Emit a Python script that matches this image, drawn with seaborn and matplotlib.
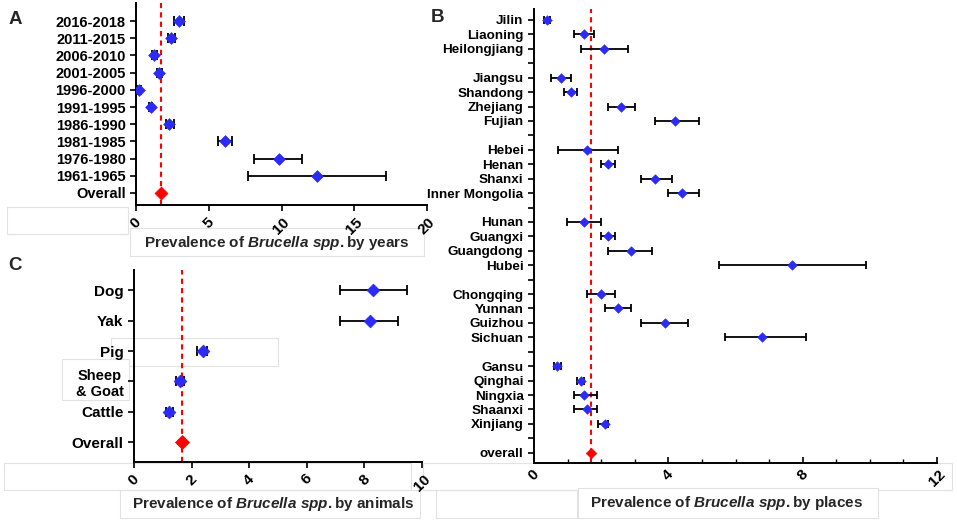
import numpy as np
import pandas as pd
import matplotlib
matplotlib.use("Agg")
from matplotlib import pyplot as plt
from matplotlib.patches import Rectangle
from matplotlib.ticker import MultipleLocator
import seaborn as sns

# panel A - by years
years = ["2016-2018", "2011-2015", "2006-2010", "2001-2005", "1996-2000",
         "1991-1995", "1986-1990", "1981-1985", "1976-1980", "1961-1965"]
years_est = [2.95, 2.43, 1.26, 1.60, 0.23, 1.00, 2.30, 6.13, 9.85, 12.45]
years_lo = [2.60, 2.20, 1.10, 1.45, 0.10, 0.90, 2.05, 5.65, 8.10, 7.70]
years_hi = [3.30, 2.70, 1.45, 1.80, 0.35, 1.10, 2.60, 6.60, 11.40, 17.20]
years_overall = 1.72

# panel C - by animals
animals = ["Dog", "Yak", "Pig", "Sheep\n& Goat", "Cattle"]
animals_est = [8.31, 8.20, 2.40, 1.59, 1.22]
animals_lo = [7.17, 7.17, 2.20, 1.45, 1.10]
animals_hi = [9.49, 9.18, 2.55, 1.75, 1.35]
animals_overall = 1.68

# panel B - by places ("" = gap row between regions)
places = ["Jilin", "Liaoning", "Heilongjiang", "",
          "Jiangsu", "Shandong", "Zhejiang", "Fujian", "",
          "Hebei", "Henan", "Shanxi", "Inner Mongolia", "",
          "Hunan", "Guangxi", "Guangdong", "Hubei", "",
          "Chongqing", "Yunnan", "Guizhou", "Sichuan", "",
          "Gansu", "Qinghai", "Ningxia", "Shaanxi", "Xinjiang", ""]
places_est = [0.39, 1.49, 2.09, np.nan,
              0.80, 1.09, 2.59, 4.20, np.nan,
              1.59, 2.20, 3.60, 4.40, np.nan,
              1.49, 2.20, 2.89, 7.69, np.nan,
              1.99, 2.50, 3.90, 6.78, np.nan,
              0.69, 1.39, 1.49, 1.59, 2.10, np.nan]
places_lo = [0.30, 1.19, 1.40, np.nan,
             0.50, 0.89, 2.19, 3.60, np.nan,
             0.70, 2.00, 3.19, 4.00, np.nan,
             0.99, 2.00, 2.19, 5.50, np.nan,
             1.59, 2.10, 3.19, 5.70, np.nan,
             0.60, 1.29, 1.19, 1.19, 1.90, np.nan]
places_hi = [0.48, 1.80, 2.81, np.nan,
             1.10, 1.29, 3.00, 4.90, np.nan,
             2.50, 2.40, 4.10, 4.90, np.nan,
             2.00, 2.40, 3.50, 9.89, np.nan,
             2.40, 2.89, 4.60, 8.10, np.nan,
             0.80, 1.49, 1.89, 1.89, 2.20, np.nan]
places_overall = 1.69

W, H = 957, 520
BLUE = "#2b2bf5"
RED = "#ff0000"

sns.set_theme(style="ticks")
plt.rcParams["font.family"] = ["Liberation Sans", "DejaVu Sans"]
plt.rcParams["font.weight"] = "bold"
plt.rcParams["mathtext.fontset"] = "custom"
plt.rcParams["mathtext.rm"] = "Liberation Sans:bold"
plt.rcParams["mathtext.it"] = "Liberation Sans:italic:bold"


def px(x0, y0, x1, y1):
    return [x0 / W, 1 - y1 / H, (x1 - x0) / W, (y1 - y0) / H]


def forest(ax, labels, est, lo, hi, overall, overall_name, ms, cap, lsize):
    n = len(labels)
    df = pd.DataFrame({"label": labels, "est": est, "lo": lo, "hi": hi,
                       "pos": np.arange(n)})
    df = df.dropna()
    ax.errorbar(df["est"], df["pos"],
                xerr=[df["est"] - df["lo"], df["hi"] - df["est"]],
                fmt="none", ecolor="black", elinewidth=1.3,
                capsize=cap, capthick=1.3, zorder=2)
    sns.scatterplot(data=df, x="est", y="pos", marker="D", color=BLUE,
                    edgecolor=BLUE, s=ms, ax=ax, zorder=3, legend=False)
    sns.scatterplot(x=[overall], y=[n], marker="D", color=RED,
                    edgecolor=RED, s=ms * 1.2, ax=ax, zorder=3, legend=False)
    ax.axvline(overall, color=RED, ls=(0, (2.5, 2)), lw=1.5, zorder=1)
    ax.set_yticks(np.arange(n + 1))
    ax.set_yticklabels(list(labels) + [overall_name], fontsize=lsize,
                       fontweight="bold")
    ax.set_xlabel("")
    ax.set_ylabel("")
    ax.set_facecolor("none")
    for s in ["top", "right"]:
        ax.spines[s].set_visible(False)
    for s in ["left", "bottom"]:
        ax.spines[s].set_linewidth(1.4)
        ax.spines[s].set_color("black")
    ax.tick_params(axis="both", colors="black", width=1.2, length=4)
    ax.tick_params(axis="x", labelrotation=45, labelsize=11, pad=3)
    ax.set_zorder(2)


fig = plt.figure(figsize=(W / 100, H / 100), dpi=100)

# faint boxes left over in the original figure
boxes = [(7, 207, 128, 234), (130, 228, 424, 256), (111, 338, 278, 366),
         (62, 359, 129, 400), (4, 463, 411, 490), (120, 490, 420, 518),
         (423, 463, 952, 490), (436, 490, 577, 518), (578, 488, 878, 518)]
for b in boxes:
    x, y, w, h = px(*b)
    fig.patches.append(Rectangle((x, y), w, h, transform=fig.transFigure,
                                 facecolor="white", edgecolor="#e2e2e2",
                                 lw=0.8, zorder=0))

axA = fig.add_axes(px(136, 3, 427, 205))
forest(axA, years, years_est, years_lo, years_hi, years_overall,
       "Overall", 36, 3.5, 10.5)
axA.set_xlim(0, 20)
axA.set_xticks([0, 5, 10, 15, 20])
axA.set_ylim(10.7, -1.05)

axC = fig.add_axes(px(134, 270, 422, 462))
forest(axC, animals, animals_est, animals_lo, animals_hi, animals_overall,
       "Overall", 42, 3.5, 11)
axC.set_xlim(0, 10)
axC.set_xticks([0, 2, 4, 6, 8, 10])
axC.set_ylim(5.65, -0.67)
for t in axC.get_yticklabels():
    if "Sheep" in t.get_text():
        t.set_multialignment("center")
        t.set_fontsize(10.5)

axB = fig.add_axes(px(534, 9, 937, 463))
forest(axB, places, places_est, places_lo, places_hi, places_overall,
       "overall", 24, 3, 9.7)
axB.set_xlim(0, 12)
axB.set_xticks([0, 4, 8, 12])
axB.xaxis.set_minor_locator(MultipleLocator(1))
axB.tick_params(axis="x", which="both", direction="in")
axB.tick_params(axis="x", which="minor", length=3, width=1, colors="black")
axB.set_ylim(30.71, -0.76)

fig.text(15 / W, 1 - 20 / H, "A", fontsize=13.5, fontweight="bold",
         ha="center", va="center")
fig.text(438 / W, 1 - 18 / H, "B", fontsize=13.5, fontweight="bold",
         ha="center", va="center")
fig.text(15 / W, 1 - 266 / H, "C", fontsize=13.5, fontweight="bold",
         ha="center", va="center")

fig.text(277 / W, 1 - 243 / H, r"Prevalence of $\mathit{Brucella\ spp.}$by years",
         fontsize=11, fontweight="bold", ha="center", va="center")
fig.text(273 / W, 1 - 504 / H, r"Prevalence of $\mathit{Brucella\ spp.}$by animals",
         fontsize=11, fontweight="bold", ha="center", va="center")
fig.text(727 / W, 1 - 503 / H, r"Prevalence of $\mathit{Brucella\ spp.}$by places",
         fontsize=11, fontweight="bold", ha="center", va="center")

fig.savefig("out.png", dpi=100)
